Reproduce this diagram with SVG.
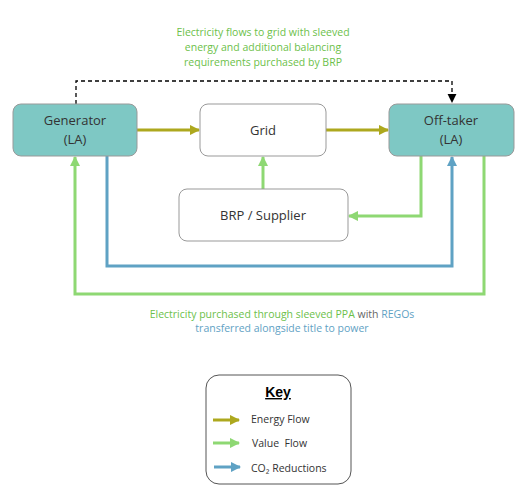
<svg xmlns="http://www.w3.org/2000/svg" width="520" height="495" viewBox="0 0 520 495">
<style>
.t{font-family:"Open Sans","Noto Sans",sans-serif;fill:#333;}
.n{font-size:13px;text-anchor:middle;}
.s{font-size:10.5px;}
.box{stroke:#999;stroke-width:1;}
.la{fill:#7EC8C4;}
.w{fill:#fff;}
.e{stroke:#ADA81E;stroke-width:3;fill:none;}
.v{stroke:#8ED873;stroke-width:3;fill:none;}
.c{stroke:#5FA2C4;stroke-width:3;fill:none;}
</style>
<defs>
<marker id="ae" viewBox="0 0 10 10" refX="9" refY="5" markerWidth="3.5" markerHeight="3.5" orient="auto" markerUnits="strokeWidth"><path d="M0,0L10,5L0,10z" fill="#ADA81E"/></marker>
<marker id="av" viewBox="0 0 10 10" refX="9" refY="5" markerWidth="3.5" markerHeight="3.5" orient="auto" markerUnits="strokeWidth"><path d="M0,0L10,5L0,10z" fill="#8ED873"/></marker>
<marker id="ac" viewBox="0 0 10 10" refX="9" refY="5" markerWidth="3.5" markerHeight="3.5" orient="auto" markerUnits="strokeWidth"><path d="M0,0L10,5L0,10z" fill="#5FA2C4"/></marker>
<marker id="ak" viewBox="0 0 10 10" refX="9" refY="5" markerWidth="7" markerHeight="7" orient="auto" markerUnits="strokeWidth"><path d="M0,0L10,5L0,10z" fill="#000"/></marker>
</defs>
<rect width="520" height="495" fill="#fff"/>
<g id="connectors">
<path d="M76,104V81H452V102" fill="none" stroke="#000" stroke-width="1.3" stroke-dasharray="4,3" marker-end="url(#ak)"/>
<path class="e" d="M137,130H199" marker-end="url(#ae)"/>
<path class="e" d="M326,130H388" marker-end="url(#ae)"/>
<path class="v" d="M263,189V157" marker-end="url(#av)"/>
<path class="v" d="M421,156V216H349" marker-end="url(#av)"/>
<path class="c" d="M107,156V266H452V157" marker-end="url(#ac)"/>
<path class="v" d="M484,156V294H75V157" marker-end="url(#av)"/>
</g>
<g id="generator"><rect class="box la" x="13" y="104" width="124" height="52" rx="8"/><text class="t n" x="75" y="125">Generator</text><text class="t n" x="75" y="144">(LA)</text></g>
<g id="grid"><rect class="box w" x="200" y="104" width="126" height="52" rx="8"/><text class="t n" x="263" y="135">Grid</text></g>
<g id="offtaker"><rect class="box la" x="389" y="104" width="125" height="52" rx="8"/><text class="t n" x="451" y="125">Off-taker</text><text class="t n" x="451" y="144">(LA)</text></g>
<g id="brp"><rect class="box w" x="179" y="189" width="169" height="52" rx="8"/><text class="t n" x="263" y="220">BRP / Supplier</text></g>
<g id="top-label"><text class="s" font-family="Open Sans,Noto Sans,sans-serif" fill="#6CBF4A" text-anchor="middle"><tspan x="263" y="36">Electricity flows to grid with sleeved</tspan><tspan x="263" y="51">energy and additional balancing</tspan><tspan x="263" y="66">requirements purchased by BRP</tspan></text></g>
<g id="bottom-label"><text class="s" font-family="Open Sans,Noto Sans,sans-serif" text-anchor="middle"><tspan x="282" y="318"><tspan fill="#6CBF4A">Electricity purchased through sleeved PPA</tspan><tspan fill="#666"> with </tspan><tspan fill="#5FA2C4">REGOs</tspan></tspan><tspan x="282" y="332" fill="#5FA2C4">transferred alongside title to power</tspan></text></g>
<g id="key">
<rect x="206" y="375" width="145" height="109" rx="13" fill="#fff" stroke="#555" stroke-width="1"/>
<text x="278" y="397" font-family="Liberation Sans,Arial,sans-serif" font-size="14" font-weight="bold" text-anchor="middle" text-decoration="underline" fill="#000">Key</text>
<path class="e" d="M213,420H239" marker-end="url(#ae)"/>
<path class="v" d="M213,443H239" marker-end="url(#av)"/>
<path class="c" d="M214,467H240" marker-end="url(#ac)"/>
<text class="t s" x="251" y="423" fill="#000">Energy Flow</text>
<text class="t s" x="252" y="447" fill="#000" xml:space="preserve">Value  Flow</text>
<text class="t s" x="251" y="472" fill="#000">CO₂ Reductions</text>
</g>
</svg>
